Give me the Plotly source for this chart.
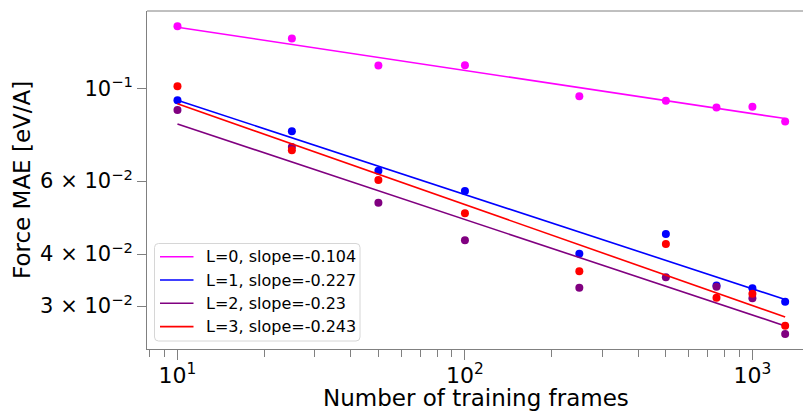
import numpy as np
import plotly.graph_objects as go

frames = [10, 25, 50, 100, 250, 500, 750, 1000, 1300]
mae_L0 = [0.1415, 0.1322, 0.1138, 0.1140, 0.0960, 0.0936, 0.0902, 0.0905, 0.0835]
mae_L1 = [0.0939, 0.0791, 0.0635, 0.0568, 0.0401, 0.0447, 0.0336, 0.0331, 0.0307]
mae_L2 = [0.0889, 0.0724, 0.0532, 0.0432, 0.0332, 0.0352, 0.0334, 0.0313, 0.0257]
mae_L3 = [0.1015, 0.0712, 0.0603, 0.0502, 0.0364, 0.0423, 0.0314, 0.0321, 0.0269]
slopes = [-0.104, -0.227, -0.23, -0.243]
names = ["L=0", "L=1", "L=2", "L=3"]
colors = ["#ff00ff", "#0000ff", "#800080", "#ff0000"]

y_tickvals = [0.1, 0.06, 0.04, 0.03]
y_ticktext = ["10<sup>−1</sup>", "6 × 10<sup>−2</sup>", "4 × 10<sup>−2</sup>", "3 × 10<sup>−2</sup>"]
y_minor = [0.05, 0.07, 0.08, 0.09]
x_tickvals = [10, 100, 1000]
x_ticktext = ["10<sup>1</sup>", "10<sup>2</sup>", "10<sup>3</sup>"]
x_minor = [8, 9, 20, 30, 40, 50, 60, 70, 80, 90, 200, 300, 400, 500, 600, 700, 800, 900]

FONT = "DejaVu Sans"
SPINE = "#808080"
W, H = 803, 412
ML, MT, MB = 147, 11, 63
PW, PH = W - ML, H - MT - MB


def px(xp):
    return (xp - ML) / PW


def py(yp):
    return (H - MB - yp) / PH


fig = go.Figure()
lx = np.log10(frames)
series = [mae_L0, mae_L1, mae_L2, mae_L3]
for i, (vals, s) in enumerate(zip(series, slopes)):
    fig.add_trace(go.Scatter(x=frames, y=vals, mode="markers",
                             marker=dict(color=colors[i], size=8, line=dict(width=0)),
                             showlegend=False, hoverinfo="skip"))
    ly = np.log10(vals)
    b = ly.mean() - s * lx.mean()
    xfit = [frames[0], frames[-1]]
    yfit = [10 ** (b + s * np.log10(v)) for v in xfit]
    fig.add_trace(go.Scatter(x=xfit, y=yfit, mode="lines",
                             line=dict(color=colors[i], width=1.6),
                             name=f"{names[i]}, slope={s}", showlegend=False, hoverinfo="skip"))

# manual legend (matplotlib style)
bx0, bx1, by0, by1 = px(154.5), px(360), py(341), py(243.5)
rx, ry = 4 / PW, 4 / PH
path = (f"M {bx0+rx},{by1} L {bx1-rx},{by1} Q {bx1},{by1} {bx1},{by1-ry} "
        f"L {bx1},{by0+ry} Q {bx1},{by0} {bx1-rx},{by0} L {bx0+rx},{by0} "
        f"Q {bx0},{by0} {bx0},{by0+ry} L {bx0},{by1-ry} Q {bx0},{by1} {bx0+rx},{by1} Z")
shapes = [dict(type="line", xref="paper", yref="paper", x0=0, x1=1, y0=1, y1=1,
               line=dict(color=SPINE, width=1)),
          dict(type="path", xref="paper", yref="paper", path=path,
               fillcolor="rgba(255,255,255,0.8)", line=dict(color="#d6d6d6", width=1), layer="above")]
annotations = []
row_y = [256.7, 280.0, 303.3, 326.6]
for i, s in enumerate(slopes):
    shapes.append(dict(type="line", xref="paper", yref="paper", x0=px(160), x1=px(193.5),
                       y0=py(row_y[i]), y1=py(row_y[i]), line=dict(color=colors[i], width=1.6), layer="above"))
    annotations.append(dict(xref="paper", yref="paper", x=px(204), y=py(row_y[i]), xanchor="left",
                            yanchor="middle", showarrow=False, text=f"{names[i]}, slope={s}",
                            font=dict(size=16, family=FONT, color="black")))
annotations.append(dict(xref="paper", yref="paper", x=px(22), y=0.5, xanchor="center", yanchor="middle",
                        showarrow=False, textangle=-90, text="Force MAE [eV/A]",
                        font=dict(size=23, family=FONT, color="black")))
annotations.append(dict(xref="paper", yref="paper", x=px(476), y=py(413), xanchor="center", yanchor="bottom",
                        showarrow=False, text="Number of training frames",
                        font=dict(size=23, family=FONT, color="black")))

fig.update_layout(
    width=W, height=H,
    margin=dict(l=ML, r=0, t=MT, b=MB),
    paper_bgcolor="white", plot_bgcolor="white",
    font=dict(family=FONT, color="black"),
    showlegend=False,
    shapes=shapes, annotations=annotations,
)
fig.update_xaxes(type="log", range=[0.894, 3.176], showgrid=False, zeroline=False,
                 automargin=False,
                 showline=True, linecolor=SPINE, linewidth=1,
                 ticks="outside", ticklen=10, tickcolor=SPINE, tickwidth=1,
                 tickvals=x_tickvals, ticktext=x_ticktext, tickfont=dict(size=22),
                 ticklabelstandoff=-3,
                 minor=dict(tickvals=x_minor, ticks="outside", ticklen=7, tickcolor=SPINE, tickwidth=1, showgrid=False))
fig.update_yaxes(type="log", range=[-1.6264, -0.8125], showgrid=False, zeroline=False,
                 automargin=False,
                 showline=True, linecolor=SPINE, linewidth=1,
                 ticks="outside", ticklen=9, tickcolor=SPINE, tickwidth=1,
                 tickvals=y_tickvals, ticktext=y_ticktext, tickfont=dict(size=21))

fig.write_html("out.html", config={"displayModeBar": False},
               post_script="document.body.style.margin='0';document.body.style.overflow='hidden';")
